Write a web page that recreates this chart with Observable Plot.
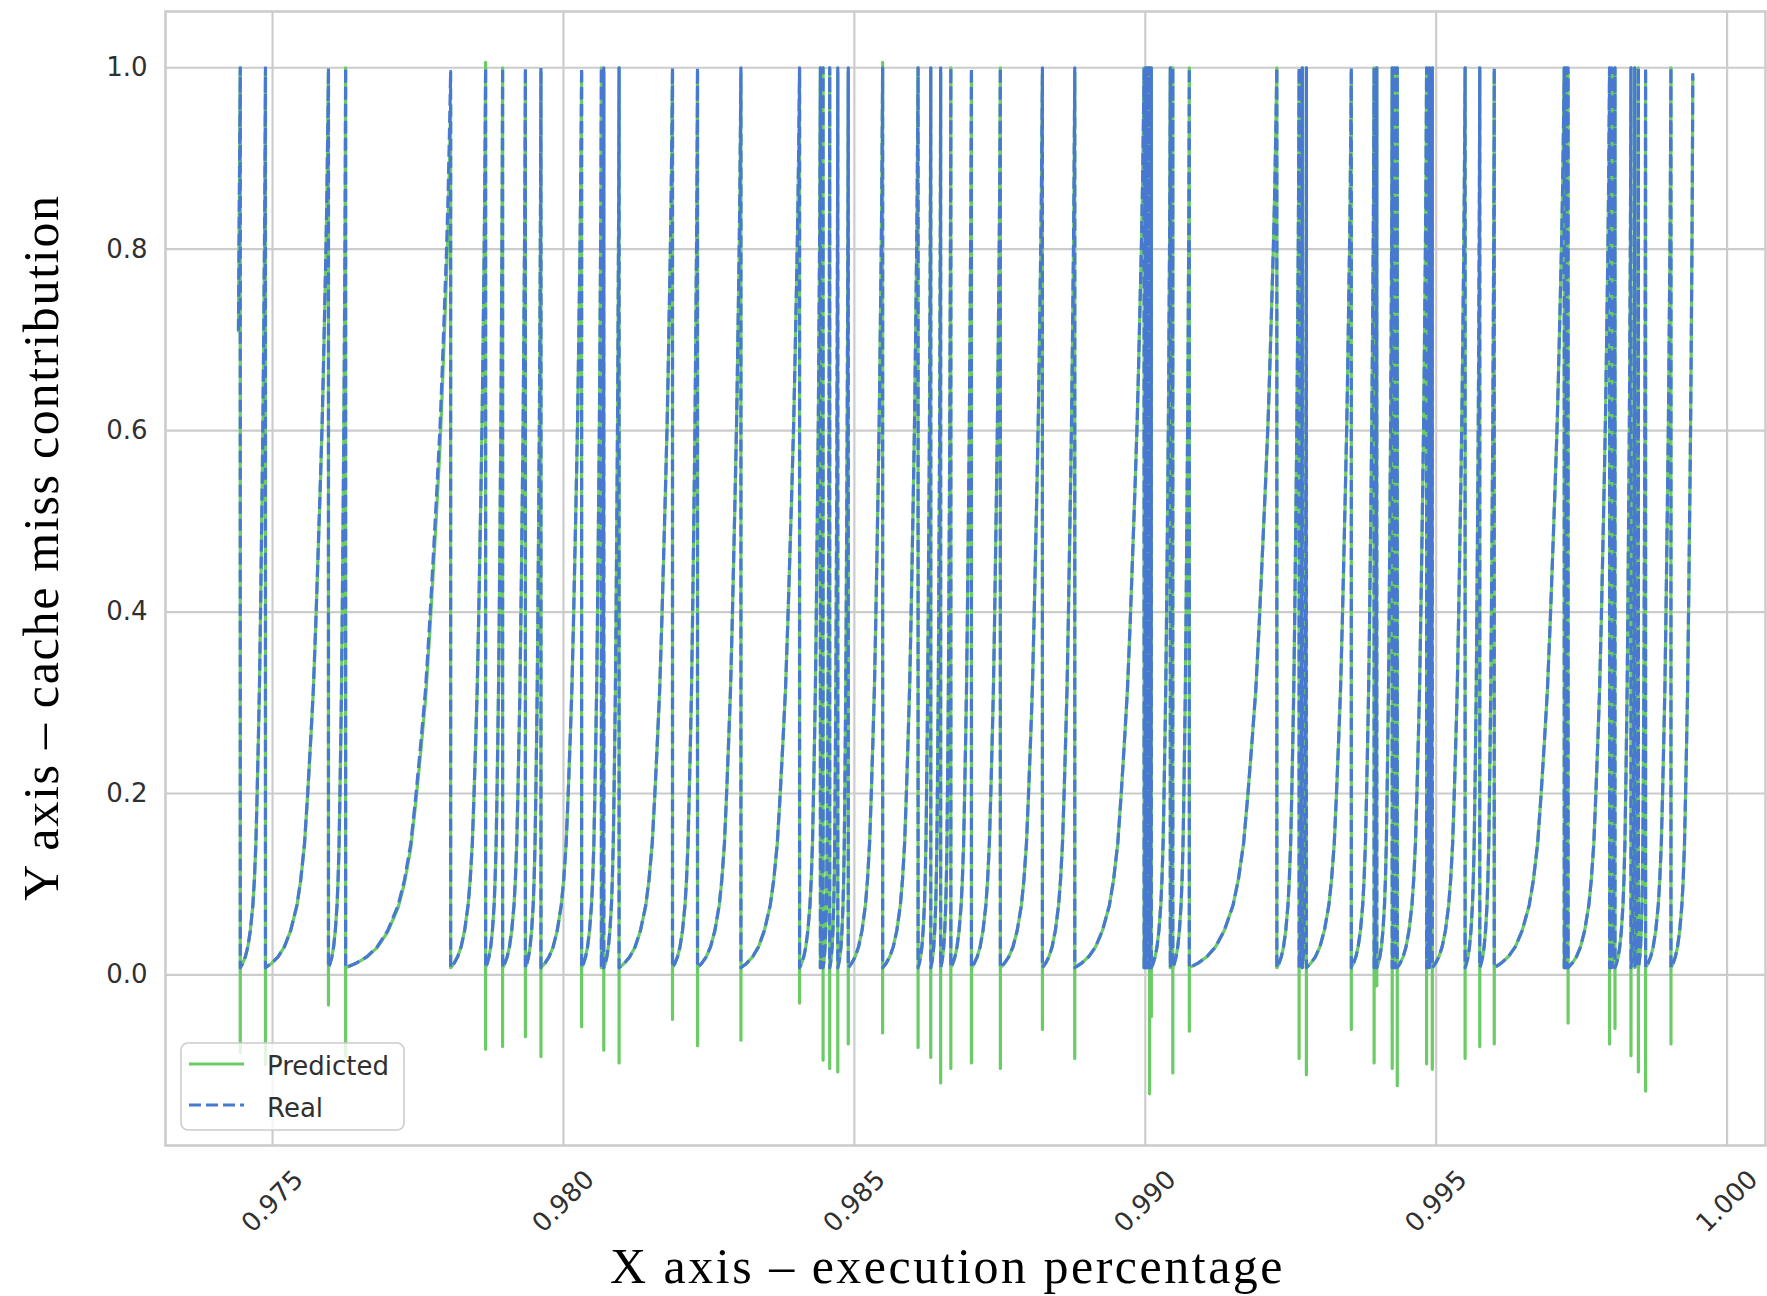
<!DOCTYPE html>
<html>
<head>
<meta charset="utf-8">
<script src="https://cdn.jsdelivr.net/npm/d3@7"></script>
<script src="https://cdn.jsdelivr.net/npm/@observablehq/plot@0.6"></script>
<style>
html, body { margin: 0; padding: 0; background: #ffffff; }
#wrap { position: relative; width: 1767px; height: 1296px; }
#legend { position: absolute; left: 180px; top: 1042px; }
</style>
</head>
<body>
<div id="wrap">
  <div id="chart"></div>
  <svg id="legend" width="226" height="90">
    <rect x="1" y="1" width="223" height="87" rx="7" ry="7" fill="#ffffff" fill-opacity="0.8" stroke="#cccccc" stroke-width="1.6"></rect>
    <line x1="9" x2="64" y1="22" y2="22" stroke="#6acc64" stroke-width="3.2"></line>
    <line x1="9" x2="64" y1="63" y2="63" stroke="#4878d0" stroke-width="3.2" stroke-dasharray="12,5"></line>
    <text x="87" y="33" font-family="DejaVu Sans" font-size="26" fill="#303030">Predicted</text>
    <text x="87" y="75" font-family="DejaVu Sans" font-size="26" fill="#303030">Real</text>
  </svg>
</div>
<script>
// ---- data ----
// x of each peak (where the value drops back down), in execution percentage
const peakX = [
  0.974445, 0.974878, 0.975961, 0.976256, 0.978061, 0.978662, 0.978954, 0.979346, 0.979613, 0.980312,
  0.980652, 0.980693, 0.980956, 0.981874, 0.982304, 0.983050, 0.984058, 0.984416, 0.984462, 0.984576,
  0.984715, 0.984895, 0.985486, 0.986095, 0.986313, 0.986483, 0.986658, 0.987012, 0.987509, 0.988232,
  0.988788, 0.989980, 0.990006, 0.990032, 0.990054, 0.990073, 0.990104, 0.990430, 0.990473, 0.990757,
  0.992261, 0.992644, 0.992699, 0.992769, 0.993541, 0.993933, 0.993979, 0.994244, 0.994289, 0.994331,
  0.994835, 0.994881, 0.994933, 0.995497, 0.995749, 0.995998, 0.997201, 0.997236, 0.997267, 0.997980,
  0.998018, 0.998073, 0.998348, 0.998413, 0.998475, 0.998599, 0.999035, 0.999410
];
// real value at each peak
const peakReal = [
  1.0, 1.0, 1.0, 1.0, 0.996, 1.0, 1.0, 1.0, 1.0, 1.0,
  1.0, 1.0, 1.0, 1.0, 1.0, 1.0, 1.0, 1.0, 1.0, 1.0,
  1.0, 1.0, 1.0, 1.0, 1.0, 1.0, 1.0, 1.0, 1.0, 1.0,
  1.0, 1.0, 1.0, 1.0, 1.0, 1.0, 1.0, 1.0, 1.0, 1.0,
  1.0, 1.0, 1.0, 1.0, 1.0, 1.0, 1.0, 1.0, 1.0, 1.0,
  1.0, 1.0, 1.0, 1.0, 1.0, 1.0, 1.0, 1.0, 1.0, 1.0,
  1.0, 1.0, 1.0, 1.0, 1.0, 1.0, 1.0, 0.994
];
// predicted value at each peak
const peakPred = [
  1.0, 0.995, 0.995, 1.0, 0.96, 1.006, 1.0, 0.995, 0.995, 0.995,
  1.0, 0.995, 1.0, 0.995, 0.995, 0.993, 0.997, 1.0, 1.0, 1.0,
  0.995, 0.995, 1.006, 1.0, 1.0, 0.995, 1.0, 0.993, 1.0, 0.993,
  0.995, 1.0, 1.0, 1.0, 1.0, 1.0, 1.0, 1.0, 1.0, 1.0,
  1.0, 0.995, 1.0, 1.0, 0.995, 1.0, 1.0, 1.0, 1.0, 1.0,
  1.0, 1.0, 1.0, 1.0, 1.0, 0.995, 1.0, 1.0, 0.995, 1.0,
  0.995, 1.0, 1.0, 1.0, 1.0, 0.995, 1.0, 0.99
];
// predicted undershoot right after each peak (null = none)
const dipPred = [
  -0.086, -0.099, -0.033, -0.090, null, -0.082, -0.079, -0.068, -0.090, -0.057,
  null, -0.083, -0.097, -0.049, -0.078, -0.072, -0.031, null, -0.094, -0.103,
  -0.107, -0.076, -0.064, -0.080, -0.091, -0.119, -0.103, -0.097, -0.103, -0.060,
  -0.092, null, null, null, null, -0.131, -0.046, null, -0.108, -0.062,
  null, -0.092, null, -0.110, -0.060, -0.097, -0.012, -0.103, null, -0.122,
  -0.098, null, -0.104, -0.092, -0.079, -0.076, null, null, -0.053, -0.076,
  null, -0.059, -0.089, null, -0.107, -0.128, -0.076, null
];
// first sample of the series
const firstX = 0.974414;
const firstY = 0.71;
// level reached right after each drop
const troughY = 0.008;
// shape of one rise, read from the long rise ending at ~0.978
// (fraction of the rise interval, value for a rise that ends at 1.0)
const riseFrac  = [0, 0.10, 0.20, 0.30, 0.40, 0.50, 0.56, 0.62, 0.67, 0.72, 0.76, 0.80, 0.84, 0.87, 0.90, 0.92, 0.94, 0.96, 0.975, 0.99, 1];
const riseLevel = [0.008, 0.013, 0.020, 0.031, 0.049, 0.077, 0.105, 0.145, 0.200, 0.262, 0.315, 0.390, 0.475, 0.540, 0.610, 0.670, 0.735, 0.800, 0.860, 0.940, 1.0];

const xTicks = [0.975, 0.980, 0.985, 0.990, 0.995, 1.000];
const yTicks = [0.0, 0.2, 0.4, 0.6, 0.8, 1.0];

const xLabel = "X axis \u2013 execution percentage";
const yLabel = "Y axis \u2013 cache miss contribution";

// ---- build the line tables from the arrays above ----
function buildRows(peaks, dips) {
  const rows = [{x: firstX, y: firstY}];
  for (let i = 0; i < peakX.length; i++) {
    if (i > 0) {
      const s = peakX[i - 1], p = peakX[i];
      for (let k = 0; k < riseFrac.length - 1; k++) {
        rows.push({
          x: s + riseFrac[k] * (p - s),
          y: troughY + (riseLevel[k] - troughY) * (peaks[i] - troughY) / (1 - troughY)
        });
      }
    }
    rows.push({x: peakX[i], y: peaks[i]});
    if (dips && dips[i] != null) rows.push({x: peakX[i], y: dips[i]});
  }
  return rows;
}
const realRows = buildRows(peakReal, null);
const predRows = buildRows(peakPred, dipPred);

const fmt3 = d3.format(".3f");
const fmt1 = d3.format(".1f");

const chart = Plot.plot({
  width: 1767,
  height: 1296,
  marginLeft: 165,
  marginRight: 2,
  marginTop: 11,
  marginBottom: 151,
  style: {fontFamily: "DejaVu Sans", fontSize: "26px", color: "#303030", background: "#ffffff"},
  x: {domain: [0.97316, 1.00066], axis: null},
  y: {domain: [-0.188, 1.062], axis: null},
  marks: [
    Plot.gridX(xTicks, {stroke: "#cccccc", strokeOpacity: 1, strokeWidth: 2.2}),
    Plot.gridY(yTicks, {stroke: "#cccccc", strokeOpacity: 1, strokeWidth: 2.2}),
    Plot.frame({stroke: "#cccccc", strokeWidth: 2.6}),
    Plot.line(predRows, {x: "x", y: "y", stroke: "#6acc64", strokeWidth: 3.2, strokeLinejoin: "round"}),
    Plot.line(realRows, {x: "x", y: "y", stroke: "#4878d0", strokeWidth: 3.2, strokeDasharray: "12,5", strokeLinecap: "butt", strokeLinejoin: "round"}),
    Plot.text(yTicks, {y: d => d, text: d => fmt1(d), frameAnchor: "left", dx: -18, textAnchor: "end", lineAnchor: "middle", fontSize: 26, fill: "#303030"}),
    Plot.text(xTicks, {x: d => d, text: d => fmt3(d), frameAnchor: "bottom", dy: 56, rotate: -45, textAnchor: "middle", lineAnchor: "middle", fontSize: 26, fill: "#303030"}),
    Plot.text([xLabel], {text: d => d, frameAnchor: "bottom", dx: -18, dy: 137, lineAnchor: "bottom", textAnchor: "middle", fontFamily: "Liberation Serif", fontSize: 50, fill: "#000000"}),
    Plot.text([yLabel], {text: d => d, frameAnchor: "left", dx: -108, dy: -31, rotate: -90, lineAnchor: "bottom", textAnchor: "middle", fontFamily: "Liberation Serif", fontSize: 50, fill: "#000000"})
  ]
});
document.getElementById("chart").appendChild(chart);

d3.select(chart).selectAll("text")
  .filter(function () { return this.textContent === xLabel; })
  .style("letter-spacing", "2.5px");
d3.select(chart).selectAll("text")
  .filter(function () { return this.textContent === yLabel; })
  .style("letter-spacing", "1.7px");
</script>
</body>
</html>
